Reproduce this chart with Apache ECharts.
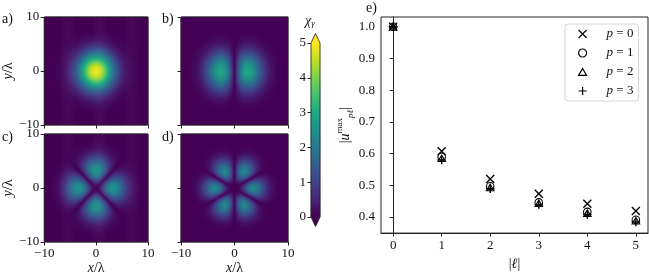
<!DOCTYPE html>
<html><head><meta charset="utf-8">
<script src="https://cdn.jsdelivr.net/npm/echarts@6/dist/echarts.min.js"></script>
<style>html,body{margin:0;padding:0;background:#fff}#c{width:649px;height:276px}</style>
</head><body><div id="c"></div>
<script>
// ---- scatter data (panel e) ----
const ell = [0, 1, 2, 3, 4, 5];
const p0 = [1.0, 0.607, 0.520, 0.473, 0.442, 0.419];
const p1 = [1.0, 0.590, 0.497, 0.446, 0.416, 0.391];
const p2 = [1.0, 0.585, 0.493, 0.443, 0.412, 0.388];
const p3 = [1.0, 0.580, 0.489, 0.439, 0.408, 0.384];
const seriesNames = ['p = 0', 'p = 1', 'p = 2', 'p = 3'];
const xTicks = [0, 1, 2, 3, 4, 5];
const yTicks = [0.4, 0.5, 0.6, 0.7, 0.8, 0.9, 1.0];
// ---- map panels (a-d) ----
const panelLabels = ['a)', 'b)', 'c)', 'd)'];
const panelOrder = [0, 1, 2, 3];          // azimuthal order of each panel
const panelPeak = [4.9, 2.95, 2.55, 2.3];
const panelRadius = [3.5, 2.5, 3.3, 3.6];  // lobe radius (width for a) in units of lambda
const mapTicks = [-10, 0, 10];
const cbarTicks = [0, 1, 2, 3, 4, 5];
const viridis = ['#440154','#482475','#414487','#355f8d','#2a788e','#21918c','#22a884','#44bf70','#7ad151','#bddf26','#fde725'];

const FONT = 'Liberation Serif';
const TXT = '#111';
const NX = 107, NY = 108, NCB = 174;

function fieldValue(k, x, y) {
  const r = Math.hypot(x, y), l = panelOrder[k], r0 = panelRadius[k];
  if (l === 0) return panelPeak[k] * Math.exp(-r * r / (r0 * r0));
  const phi = Math.atan2(y, x);
  return panelPeak[k] * Math.pow(r / r0, l) * Math.exp(l / 2 * (1 - r * r / (r0 * r0))) * Math.abs(Math.cos(l * phi));
}
function mapData(k) {
  const out = [];
  for (let j = 0; j < NY; j++) for (let i = 0; i < NX; i++) {
    const x = -10 + (i + 0.5) * 20 / NX, y = -10 + (j + 0.5) * 20 / NY;
    out.push([i, j, fieldValue(k, x, y)]);
  }
  return out;
}
const fmtMinus = v => v < 0 ? '\u2212' + (-v) : String(v);

const gridPos = [
  {left: 41, top: 17}, {left: 181, top: 17}, {left: 41, top: 134}, {left: 181, top: 134}
];
const grids = gridPos.map(g => ({left: g.left, top: g.top, width: 107, height: 108, show: true,
  borderColor: '#222', borderWidth: 1, backgroundColor: 'transparent', z: 5}));
grids.push({left: 311, top: 43, width: 9, height: 174, show: false});
grids.push({left: 381, top: 17, width: 267, height: 224, show: true, borderColor: '#222', borderWidth: 1, backgroundColor: 'transparent'});

const idxX = Array.from({length: NX}, (_, i) => i);
const idxY = Array.from({length: NY}, (_, i) => i);
const idxCb = Array.from({length: NCB}, (_, i) => i);

const xAxes = [], yAxes = [];
const tickStyle = {show: true, length: 3.5, inside: false, lineStyle: {color: '#222', width: 1}};
const labelStyle = {fontFamily: FONT, fontSize: 13, color: TXT};
const nameRich = {i: {fontFamily: FONT, fontStyle: 'italic', fontSize: 14, color: TXT}};
for (let k = 0; k < 4; k++) {
  xAxes.push({type: 'category', gridIndex: k, data: idxX, show: false, position: 'top', boundaryGap: true});
  xAxes.push({type: 'value', gridIndex: k, min: -10, max: 10, interval: 10, position: 'bottom',
    axisLine: {show: false}, splitLine: {show: false}, axisTick: tickStyle,
    axisLabel: Object.assign({show: k >= 2, margin: 5, formatter: fmtMinus}, labelStyle),
    name: k >= 2 ? '{i|x}/λ' : '', nameLocation: 'middle', nameGap: 17,
    nameTextStyle: {fontFamily: FONT, fontSize: 14, color: TXT, rich: nameRich}});
  yAxes.push({type: 'category', gridIndex: k, data: idxY, show: false, position: 'right', boundaryGap: true});
  yAxes.push({type: 'value', gridIndex: k, min: -10, max: 10, interval: 10, position: 'left',
    axisLine: {show: false}, splitLine: {show: false}, axisTick: tickStyle,
    axisLabel: Object.assign({show: k % 2 === 0, margin: 5, formatter: fmtMinus}, labelStyle),
    name: k % 2 === 0 ? '{i|y}/λ' : '', nameLocation: 'middle', nameGap: 24, nameRotate: 90,
    nameTextStyle: {fontFamily: FONT, fontSize: 14, color: TXT, rich: nameRich}});
}
// colorbar axes
xAxes.push({type: 'category', gridIndex: 4, data: ['0'], show: false, position: 'top'});
yAxes.push({type: 'category', gridIndex: 4, data: idxCb, show: false, position: 'right'});
yAxes.push({type: 'value', gridIndex: 4, min: 0, max: 5, interval: 1, position: 'left',
  axisLine: {show: false}, splitLine: {show: false}, axisTick: tickStyle,
  axisLabel: Object.assign({margin: 5}, labelStyle)});
// scatter axes
xAxes.push({type: 'value', gridIndex: 5, min: -0.25, max: 5.25, position: 'bottom',
  axisLine: {show: true, lineStyle: {color: '#222'}}, splitLine: {show: false},
  axisTick: Object.assign({customValues: xTicks}, tickStyle),
  axisLabel: Object.assign({customValues: xTicks, margin: 6, formatter: v => String(Math.round(v))}, labelStyle),
  name: '|{i|ℓ}|', nameLocation: 'middle', nameGap: 20,
  nameTextStyle: {fontFamily: FONT, fontSize: 14, color: TXT, rich: nameRich}});
yAxes.push({type: 'value', gridIndex: 5, min: 0.349, max: 1.031, position: 'left',
  axisLine: {show: true, lineStyle: {color: '#222'}}, splitLine: {show: false},
  axisTick: Object.assign({customValues: yTicks}, tickStyle),
  axisLabel: Object.assign({customValues: yTicks, margin: 6, formatter: v => v.toFixed(1)}, labelStyle),
  name: '|{i|u}{sup|max}{sub|pℓ}|', nameLocation: 'middle', nameGap: 22, nameRotate: 90,
  nameTextStyle: {fontFamily: FONT, fontSize: 14, color: TXT, lineHeight: 20, rich: {
    i: {fontFamily: FONT, fontStyle: 'italic', fontSize: 14, color: TXT},
    sup: {fontFamily: FONT, fontSize: 9, color: TXT, verticalAlign: 'top', lineHeight: 20},
    sub: {fontFamily: FONT, fontStyle: 'italic', fontSize: 9, color: TXT, verticalAlign: 'bottom', lineHeight: 20}
  }}});

const series = [];
for (let k = 0; k < 4; k++) {
  series.push({type: 'heatmap', xAxisIndex: 2 * k, yAxisIndex: 2 * k, data: mapData(k),
    progressive: 0, emphasis: {disabled: true}, silent: true});
}
series.push({type: 'heatmap', xAxisIndex: 8, yAxisIndex: 8,
  data: idxCb.map(j => [0, j, (j + 0.5) / NCB * 5]), progressive: 0, silent: true});

const sym = [
  'path://M0,0L10,10M10,0L0,10', 'circle', 'path://M5,0L10,8.66L0,8.66Z', 'path://M5,0L5,10M0,5L10,5'
];
const symSize = [8, 7.5, 7.5, 8.5];
const vals = [p0, p1, p2, p3];
for (let s = 0; s < 4; s++) {
  const hollow = (s === 1 || s === 2);
  series.push({type: 'scatter', name: seriesNames[s], xAxisIndex: 9, yAxisIndex: 10,
    symbol: sym[s], symbolSize: symSize[s], symbolKeepAspect: true,
    itemStyle: {color: hollow ? 'rgba(0,0,0,0)' : '#000', borderColor: '#000', borderWidth: hollow ? 1.1 : 1.4, opacity: 1},
    data: ell.map((l, i) => [l, vals[s][i]]), z: 3 + s});
}

const chart = echarts.init(document.getElementById('c'), null, {renderer: 'canvas', devicePixelRatio: 1});
chart.setOption({
  animation: false,
  backgroundColor: '#fff',
  grid: grids,
  xAxis: xAxes,
  yAxis: yAxes,
  visualMap: {type: 'continuous', show: false, min: 0, max: 5, dimension: 2,
    seriesIndex: [0, 1, 2, 3, 4], inRange: {color: viridis}},
  legend: {orient: 'vertical', left: 565, top: 24, padding: [3, 5, 3, 13], itemGap: 5,
    itemWidth: 8, itemHeight: 8, symbolKeepAspect: true, backgroundColor: 'rgba(255,255,255,0.8)',
    borderColor: '#d4d4d4', borderWidth: 1, borderRadius: 3,
    data: seriesNames, itemStyle: {borderWidth: 1.2},
    textStyle: {fontFamily: FONT, fontSize: 13, lineHeight: 14, color: TXT,
      rich: {g: {width: 15}, i: {fontFamily: FONT, fontStyle: 'italic', fontSize: 13, color: TXT}}},
    formatter: n => '{g|}{i|p}' + n.slice(1)},
  series: series
});

// colorbar outline + extension triangles, and text annotations
const cbRect = chart.getModel().getComponent('grid', 4).coordinateSystem.getRect();
const yTop = chart.convertToPixel({yAxisIndex: 9}, 5);
const yBot = chart.convertToPixel({yAxisIndex: 9}, 0);
const x0 = cbRect.x, x1 = cbRect.x + cbRect.width, xm = (x0 + x1) / 2, ext = 9.5;
const graphics = [
  {type: 'polygon', shape: {points: [[x0, yTop], [xm, yTop - ext], [x1, yTop]]}, style: {fill: viridis[viridis.length - 1]}, silent: true},
  {type: 'polygon', shape: {points: [[x0, yBot], [xm, yBot + ext], [x1, yBot]]}, style: {fill: viridis[0]}, silent: true},
  {type: 'polygon', shape: {points: [[x0, yTop], [xm, yTop - ext], [x1, yTop], [x1, yBot], [xm, yBot + ext], [x0, yBot]]},
    style: {fill: 'none', stroke: '#222', lineWidth: 0.8}, silent: true, z: 10}
];
const labelPos = [[2, 12], [162, 12], [2, 130], [162, 130]];
panelLabels.forEach((t, k) => graphics.push({type: 'text', left: labelPos[k][0], top: labelPos[k][1],
  style: {text: t, font: '14px "' + FONT + '"', fill: TXT}}));
graphics.push({type: 'text', left: 366, top: 1, style: {text: 'e)', font: '14px "' + FONT + '"', fill: TXT}});
graphics.push({type: 'text', left: 305, top: 14, style: {text: '{i|χ}{s|γ}', fill: TXT,
  rich: {i: {fontFamily: FONT, fontStyle: 'italic', fontSize: 14, fill: TXT}, s: {fontFamily: FONT, fontStyle: 'italic', fontSize: 9, fill: TXT, verticalAlign: 'bottom', padding: [6, 0, 0, 0]}}}});
chart.setOption({graphic: graphics});
</script></body></html>
